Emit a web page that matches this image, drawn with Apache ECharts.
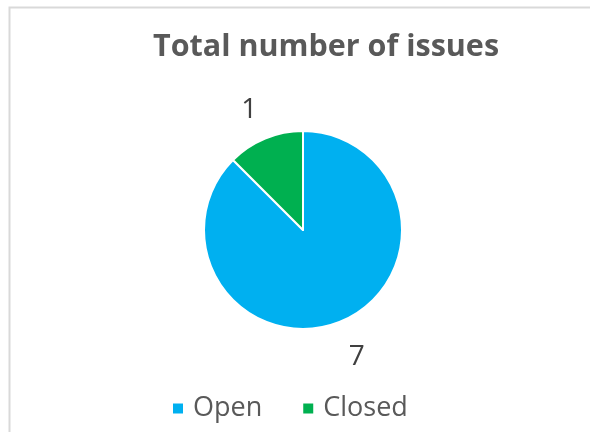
<!DOCTYPE html>
<html>
<head>
<meta charset="utf-8">
<script src="https://cdn.jsdelivr.net/npm/echarts@6/dist/echarts.min.js"></script>
<style>
html,body{margin:0;padding:0;background:#fff;}
#chart{width:590px;height:432px;}
</style>
</head>
<body>
<div id="chart"></div>
<script>
const titleText = 'Total number of issues';
const categories = ['Open', 'Closed'];
const values = [7, 1];
const colors = ['#00B0F0', '#00B050'];

// per-slice label placement tweaks (not data)
const labelLineLen = [39, 31];
const labelLineLen2 = [-7, -4];

const chart = echarts.init(document.getElementById('chart'));
chart.setOption({
  animation: false,
  backgroundColor: '#fff',
  graphic: [{
    type: 'rect', left: 7, top: 5, silent: true,
    shape: { width: 700, height: 600 },
    style: { fill: 'none', stroke: '#d9d9d9', lineWidth: 2 }
  }],
  title: {
    text: titleText,
    left: 148, top: 27,
    textStyle: { fontFamily: 'Open Sans', fontWeight: 'bold', fontSize: 30.5, color: '#595959' }
  },
  legend: {
    data: categories,
    left: 166, top: 390,
    icon: 'rect', itemWidth: 12, itemHeight: 12, itemGap: 39,
    textStyle: { fontFamily: 'Open Sans', fontSize: 27, color: '#595959', padding: [0, 0, 0, 4] }
  },
  series: [{
    type: 'pie',
    center: [303, 230],
    radius: 99,
    startAngle: 90,
    clockwise: true,
    color: colors,
    itemStyle: { borderColor: '#fff', borderWidth: 2 },
    label: {
      show: true, position: 'outside', formatter: '{c}',
      fontFamily: 'Open Sans', fontSize: 28, color: '#404040', distanceToLabelLine: 0
    },
    labelLine: { show: false, length: 32, length2: 0 },
    emphasis: { disabled: true },
    data: categories.map((c, i) => ({
      name: c, value: values[i],
      labelLine: { show: false, length: labelLineLen[i], length2: labelLineLen2[i] }
    }))
  }]
});
</script>
</body>
</html>
